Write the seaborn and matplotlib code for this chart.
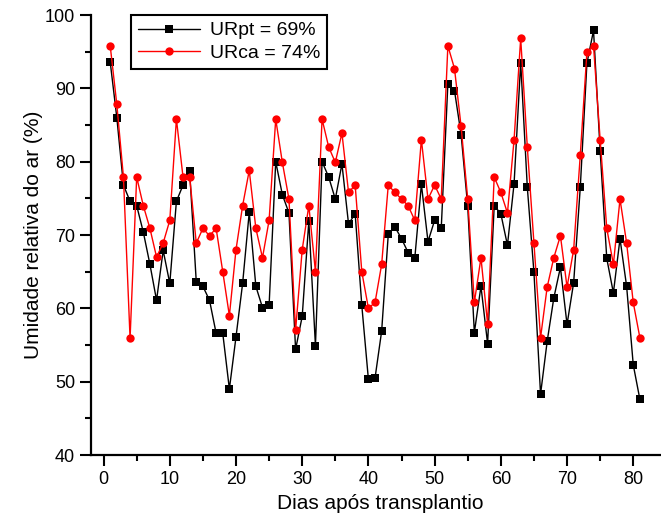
import pandas as pd
import matplotlib.pyplot as plt
import seaborn as sns

# Relative humidity readings per day after transplant
dias = list(range(1, 82))

ur_pt = [93.6, 86.0, 76.8, 74.6, 74.0, 70.4, 66.0, 61.1, 67.9, 63.4,
         74.6, 76.8, 78.7, 63.6, 63.0, 61.1, 56.6, 56.6, 49.0, 56.1,
         63.4, 73.1, 63.0, 60.1, 60.4, 80.0, 75.5, 73.0, 54.4, 58.9,
         71.9, 54.9, 80.0, 77.9, 74.9, 79.7, 71.5, 72.9, 60.4, 50.3,
         50.5, 56.9, 70.1, 71.1, 69.5, 67.6, 66.8, 76.9, 69.1, 72.0,
         70.9, 90.6, 89.7, 83.7, 73.9, 56.7, 63.0, 55.2, 74.0, 72.9,
         68.6, 77.0, 93.5, 76.5, 64.9, 48.3, 55.5, 61.4, 65.6, 57.8,
         63.5, 76.5, 93.4, 97.9, 81.5, 66.8, 62.1, 69.5, 63.0, 52.3,
         47.6]

ur_ca = [95.8, 87.8, 77.9, 55.9, 77.9, 74.0, 70.9, 67.0, 68.9, 72.0,
         85.8, 77.9, 77.9, 68.9, 70.9, 69.9, 70.9, 65.0, 59.0, 68.0,
         74.0, 78.8, 70.9, 66.9, 72.0, 85.8, 79.9, 74.9, 57.0, 68.0,
         74.0, 65.0, 85.8, 82.0, 79.9, 83.9, 75.8, 76.8, 65.0, 60.0,
         60.8, 66.0, 76.8, 75.8, 74.9, 74.0, 72.0, 83.0, 74.9, 76.8,
         74.9, 95.8, 92.7, 84.8, 74.9, 60.8, 66.9, 57.9, 77.9, 75.8,
         73.0, 83.0, 96.8, 82.0, 68.9, 56.0, 62.9, 66.9, 69.9, 62.9,
         68.0, 80.9, 94.9, 95.8, 83.0, 70.9, 66.0, 74.9, 68.9, 60.8,
         56.0]

df = pd.DataFrame({'dia': dias, 'pt': ur_pt, 'ca': ur_ca})

sns.set_style('ticks')
plt.rcParams['font.family'] = ['Liberation Sans', 'DejaVu Sans']
plt.rcParams.update({'text.color': 'black', 'axes.labelcolor': 'black',
                     'xtick.color': 'black', 'ytick.color': 'black',
                     'axes.edgecolor': 'black'})

fig = plt.figure(figsize=(6.61, 5.21), dpi=100)
ax = fig.add_axes([91 / 661, 1 - 455 / 521, 578 / 661, 440 / 521])

sns.lineplot(data=df, x='dia', y='pt', ax=ax, color='black', linewidth=1,
             marker='s', markersize=5.5, markeredgewidth=0, label='URpt = 69%')
sns.lineplot(data=df, x='dia', y='ca', ax=ax, color='red', linewidth=1,
             marker='o', markersize=6, markeredgewidth=0, label='URca = 74%')

ax.set_xlim(-1.9, 85.4)
ax.set_ylim(40, 100)
ax.set_xticks(range(0, 81, 10))
ax.set_xticks(range(5, 86, 10), minor=True)
ax.set_yticks(range(40, 101, 10))
ax.set_yticks(range(45, 100, 10), minor=True)
ax.tick_params(which='major', length=8, width=1.5, labelsize=13, direction='out')
ax.tick_params(which='minor', length=4.5, width=1.5, direction='out')

for s in ['top', 'right']:
    ax.spines[s].set_visible(False)
for s in ['left', 'bottom']:
    ax.spines[s].set_linewidth(1.6)

ax.set_xlabel('Dias após transplantio', fontsize=15)
ax.set_ylabel('Umidade relativa do ar (%)', fontsize=15, labelpad=1)

leg = ax.legend(loc='upper left', bbox_to_anchor=(0.07, 1.0), fontsize=14,
                frameon=True, fancybox=False, borderaxespad=0,
                handlelength=3.2, handletextpad=0.5, labelspacing=0.25,
                borderpad=0.35)
leg.get_frame().set_edgecolor('black')
leg.get_frame().set_linewidth(1.5)
leg.get_frame().set_alpha(1)

fig.savefig('out.png', dpi=100)
